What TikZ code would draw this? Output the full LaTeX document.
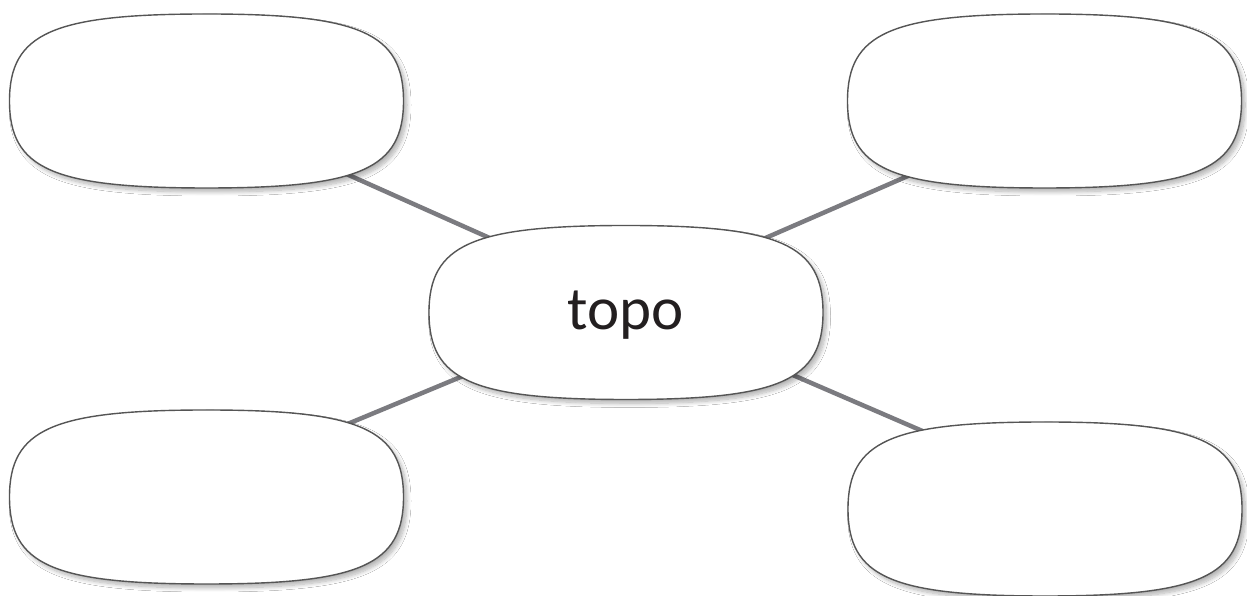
\documentclass[tikz,border=0pt]{standalone}
\usepackage{fontspec}
\setmainfont{Carlito}
\usetikzlibrary{shadows.blur}
\definecolor{edgegray}{HTML}{7B7B80}
\definecolor{outline}{HTML}{555555}
\definecolor{txtcol}{HTML}{231F20}
\pgfdeclarelayer{back}
\pgfdeclarelayer{mid}
\pgfsetlayers{back,mid,main}
\tikzset{
  box/.style={rectangle, draw=none, minimum width=394pt, minimum height=174pt, inner sep=0pt},
  blob/.style={draw=outline, line width=1.4pt, fill=white,
    blur shadow={shadow xshift=3.5pt, shadow yshift=-4pt, shadow blur radius=4pt, shadow blur steps=10, shadow opacity=30}},
  link/.style={draw=edgegray, line width=4.5pt},
}
\newcommand\blobat[1]{%
  \path[blob] ([shift={(197,0)}]#1.center)
    .. controls ([shift={(197,67.9)}]#1.center) and ([shift={(153.7,87)}]#1.center) .. ([shift={(0,87)}]#1.center)
    .. controls ([shift={(-153.7,87)}]#1.center) and ([shift={(-197,67.9)}]#1.center) .. ([shift={(-197,0)}]#1.center)
    .. controls ([shift={(-197,-67.9)}]#1.center) and ([shift={(-153.7,-87)}]#1.center) .. ([shift={(0,-87)}]#1.center)
    .. controls ([shift={(153.7,-87)}]#1.center) and ([shift={(197,-67.9)}]#1.center) .. ([shift={(197,0)}]#1.center)
    -- cycle;}
\begin{document}
\begin{tikzpicture}[x=1pt,y=1pt]
\useasboundingbox (0,0) rectangle (1247,596);
\node[box] (tl) at (206.5,495) {};
\node[box] (tr) at (1044.5,495) {};
\node[box] (bl) at (206.5,99) {};
\node[box] (br) at (1045,87) {};
\node[box, font=\fontsize{61}{61}\selectfont, text=txtcol, text height=34pt, text depth=0pt] (c) at (626,283.5) {topo};
\begin{pgfonlayer}{mid}
\blobat{tl}
\blobat{tr}
\blobat{bl}
\blobat{br}
\blobat{c}
\end{pgfonlayer}
\begin{pgfonlayer}{back}
\fill[white] (0,0) rectangle (1247,596);
\draw[link] ([shift={(-1,14)}]c.center) -- ([shift={(0,-10.5)}]tl.center);
\draw[link] ([shift={(-1,13.3)}]c.center) -- ([shift={(0,-15.5)}]tr.center);
\draw[link] ([shift={(-1,3.8)}]c.center) -- ([shift={(0,14.4)}]bl.center);
\draw[link] ([shift={(-1,10)}]c.center) -- ([shift={(0,25)}]br.center);
\end{pgfonlayer}
\end{tikzpicture}
\end{document}
